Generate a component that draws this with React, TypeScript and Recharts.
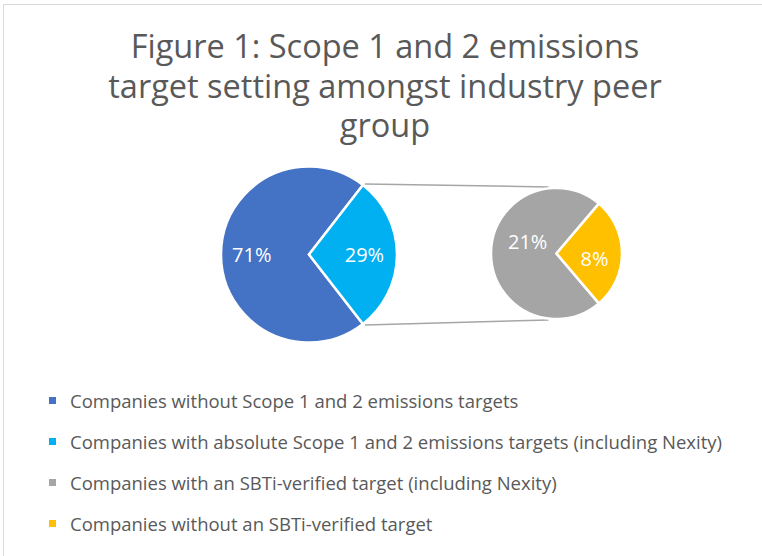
import React from "react";
import { PieChart, Pie, Cell, Customized } from "recharts";

const mainNames = [
  "Companies without Scope 1 and 2 emissions targets",
  "Companies with absolute Scope 1 and 2 emissions targets (including Nexity)",
];
const mainValues = [71, 29];
const mainColors = ["#4472C4", "#00B0F0"];

const subNames = [
  "Companies with an SBTi-verified target (including Nexity)",
  "Companies without an SBTi-verified target",
];
const subValues = [21, 8];
const subColors = ["#A5A5A5", "#FFC000"];

const titleLines = [
  "Figure 1: Scope 1 and 2 emissions",
  "target setting amongst industry peer",
  "group",
];

const mainData = mainNames.map((name, i) => ({ name, value: mainValues[i] }));
const subData = subNames.map((name, i) => ({ name, value: subValues[i] }));
const legendItems = [
  ...mainNames.map((name, i) => ({ name, color: mainColors[i] })),
  ...subNames.map((name, i) => ({ name, color: subColors[i] })),
];

const W = 762;
const H = 556;
const FONT = "'Open Sans', sans-serif";

const MAIN = { cx: 309, cy: 254.5, r: 88 };
const SUB = { cx: 556.5, cy: 253.5, r: 65.5 };

const mainShare = mainValues[1] / (mainValues[0] + mainValues[1]);
const mainStart = (mainShare * 360) / 2;
const subShare = subValues[1] / (subValues[0] + subValues[1]);
const subStart = (subShare * 360) / 2;

const RAD = Math.PI / 180;

const makeLabel = (fracs: number[], dys: number[]) => (props: any) => {
  const { cx, cy, midAngle, outerRadius, index, value } = props;
  const f = fracs[index] ?? 0.6;
  const x = cx + outerRadius * f * Math.cos(-midAngle * RAD);
  const y = cy + outerRadius * f * Math.sin(-midAngle * RAD) + (dys[index] ?? 0);
  return (
    <text
      x={x}
      y={y}
      fill="#FFFFFF"
      fontSize={20}
      fontFamily={FONT}
      textAnchor="middle"
      dominantBaseline="central"
    >
      {`${value}%`}
    </text>
  );
};

const Overlay = () => {
  const a = mainStart * RAD;
  const topX = MAIN.cx + MAIN.r * Math.cos(a);
  const topY = MAIN.cy - MAIN.r * Math.sin(a);
  const botY = MAIN.cy + MAIN.r * Math.sin(a);
  return (
    <g>
      <line x1={3.5} y1={4} x2={3.5} y2={H} stroke="#D9D9D9" strokeWidth={1} />
      <line x1={3} y1={4.5} x2={W} y2={4.5} stroke="#D9D9D9" strokeWidth={1} />
      {titleLines.map((t, i) => (
        <text
          key={i}
          x={385}
          y={58 + i * 39.5}
          textAnchor="middle"
          fontSize={32.5}
          fontFamily={FONT}
          fill="#595959"
        >
          {t}
        </text>
      ))}
      <line x1={topX + 2} y1={topY - 1} x2={SUB.cx - 8} y2={SUB.cy - SUB.r - 1} stroke="#A6A6A6" strokeWidth={1.5} />
      <line x1={topX + 2} y1={botY + 1} x2={SUB.cx - 8} y2={SUB.cy + SUB.r + 1} stroke="#A6A6A6" strokeWidth={1.5} />
    </g>
  );
};

export default function App() {
  return (
    <div style={{ position: "absolute", left: 0, top: 0, width: W, height: H, background: "#fff", overflow: "hidden" }}>
      <PieChart width={W} height={H} margin={{ top: 0, right: 0, bottom: 0, left: 0 }}>
        <Customized component={Overlay} />
        <Pie
          data={mainData}
          dataKey="value"
          nameKey="name"
          cx={MAIN.cx}
          cy={MAIN.cy}
          outerRadius={MAIN.r}
          startAngle={mainStart}
          endAngle={mainStart + 360}
          stroke="#FFFFFF"
          strokeWidth={2.5}
          label={makeLabel([0.65, 0.63], [0, 0])}
          labelLine={false}
          isAnimationActive={false}
        >
          {mainData.map((d, i) => (
            <Cell key={i} fill={mainColors[i]} />
          ))}
        </Pie>
        <Pie
          data={subData}
          dataKey="value"
          nameKey="name"
          cx={SUB.cx}
          cy={SUB.cy}
          outerRadius={SUB.r}
          startAngle={subStart}
          endAngle={subStart + 360}
          stroke="#FFFFFF"
          strokeWidth={2.5}
          label={makeLabel([0.44, 0.58], [-12, 5])}
          labelLine={false}
          isAnimationActive={false}
        >
          {subData.map((d, i) => (
            <Cell key={i} fill={subColors[i]} />
          ))}
        </Pie>
      </PieChart>
      <div style={{ position: "absolute", left: 0, top: 380, width: W, fontFamily: FONT }}>
        {legendItems.map((p, i) => (
          <div key={i} style={{ height: 41, display: "flex", alignItems: "center" }}>
            <span
              style={{
                display: "inline-block",
                width: 7,
                height: 7,
                background: p.color,
                marginLeft: 49,
                marginRight: 14,
              }}
            />
            <span style={{ fontSize: 18.5, color: "#595959", whiteSpace: "nowrap" }}>{p.name}</span>
          </div>
        ))}
      </div>
    </div>
  );
}
